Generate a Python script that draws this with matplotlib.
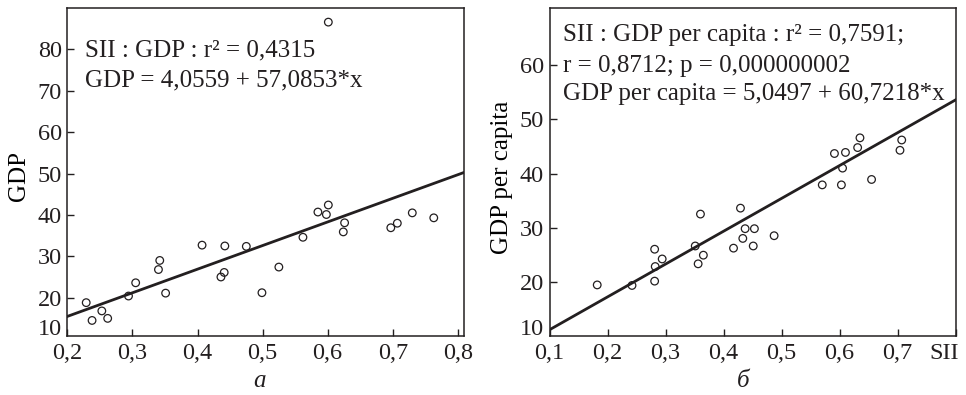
import matplotlib
matplotlib.use("Agg")
import matplotlib.pyplot as plt
from matplotlib.transforms import ScaledTranslation
import numpy as np

# ---- data ----
sii_a = [0.229, 0.238, 0.253, 0.262, 0.294, 0.305, 0.340, 0.342, 0.351, 0.407,
         0.436, 0.441, 0.442, 0.475, 0.499, 0.525, 0.562, 0.585, 0.598, 0.601,
         0.601, 0.624, 0.626, 0.697, 0.707, 0.730, 0.763]
gdp_a = [18.8, 14.5, 16.8, 15.0, 20.4, 23.6, 26.8, 29.0, 21.1, 32.7,
         25.0, 26.1, 32.5, 32.4, 21.2, 27.4, 34.6, 40.7, 40.1, 42.4,
         86.6, 35.9, 38.1, 36.9, 38.0, 40.5, 39.3]
coef_a = (4.0559, 57.0853)

sii_b = [0.182, 0.242, 0.281, 0.282, 0.281, 0.294, 0.351, 0.356, 0.360, 0.365,
         0.417, 0.429, 0.433, 0.437, 0.451, 0.453, 0.487, 0.570, 0.591, 0.603,
         0.605, 0.610, 0.631, 0.635, 0.655, 0.704, 0.707]
gdp_b = [19.4, 19.3, 26.0, 22.8, 20.1, 24.2, 26.6, 23.3, 32.5, 24.9,
         26.2, 33.6, 28.0, 29.8, 26.6, 29.8, 28.5, 37.9, 43.7, 37.9,
         41.0, 43.9, 44.8, 46.6, 38.9, 44.3, 46.2]
coef_b = (5.0497, 60.7218)

xticks_a = [0.2, 0.3, 0.4, 0.5, 0.6, 0.7, 0.8]
xticklabels_a = ["0,2", "0,3", "0,4", "0,5", "0,6", "0,7", "0,8"]
yticks_a = [20, 30, 40, 50, 60, 70, 80]
xticks_b = [0.1, 0.2, 0.3, 0.4, 0.5, 0.6, 0.7, 0.8]
xticklabels_b = ["0,1", "0,2", "0,3", "0,4", "0,5", "0,6", "0,7", "SII"]
yticks_b = [20, 30, 40, 50, 60]

text_a = ["SII : GDP : r\u00b2 = 0,4315", "GDP = 4,0559 + 57,0853*x"]
text_b = ["SII : GDP per capita : r\u00b2 = 0,7591;",
          "r = 0,8712; p = 0,000000002",
          "GDP per capita = 5,0497 + 60,7218*x"]

ink = "#231f20"
plt.rcParams['font.family'] = ['Liberation Serif', 'DejaVu Serif']
plt.rcParams['text.color'] = ink
plt.rcParams['axes.edgecolor'] = ink
plt.rcParams['xtick.color'] = ink
plt.rcParams['ytick.color'] = ink

fig = plt.figure(figsize=(9.66, 3.95), dpi=100)
ax1 = fig.add_axes([0.0697, 0.150, 0.411, 0.8296])
ax2 = fig.add_axes([0.569, 0.150, 0.4203, 0.8296])

TICK_FS = 17.5
ANN_FS = 18


def style(ax):
    for s in ax.spines.values():
        s.set_linewidth(1.1)
    ax.tick_params(direction='in', length=5, width=1.0, labelsize=TICK_FS)
    ax.tick_params(axis='x', pad=5)
    ax.tick_params(axis='y', pad=4)


# panel a
ax1.scatter(sii_a, gdp_a, s=30, facecolors='none', edgecolors=ink, linewidths=0.9, zorder=3)
xa = np.array([0.2, 0.81])
ax1.plot(xa, coef_a[0] + coef_a[1] * xa, color=ink, lw=2.0, zorder=2)
ax1.set_xlim(0.2, 0.81)
ax1.set_ylim(10.8, 90)
ax1.set_xticks(xticks_a)
ax1.set_xticklabels(xticklabels_a)
ax1.set_yticks(yticks_a)
ax1.set_yticklabels([str(v) for v in yticks_a])
style(ax1)
ax1.text(-0.014, 12.3, "10", transform=ax1.get_yaxis_transform(), ha='right', va='center', fontsize=TICK_FS)
ax1.set_ylabel("GDP", fontsize=18)
ax1.yaxis.set_label_coords(-0.094, 0.487)
ax1.text(0.0446, 0.851, text_a[0], transform=ax1.transAxes, fontsize=ANN_FS, va='baseline')
ax1.text(0.0446, 0.760, text_a[1], transform=ax1.transAxes, fontsize=ANN_FS, va='baseline')

# panel b
ax2.scatter(sii_b, gdp_b, s=30, facecolors='none', edgecolors=ink, linewidths=0.9, zorder=3)
xb = np.array([0.1, 0.8])
ax2.plot(xb, coef_b[0] + coef_b[1] * xb, color=ink, lw=2.0, zorder=2)
ax2.set_xlim(0.1, 0.8)
ax2.set_ylim(10, 70.6)
ax2.set_xticks(xticks_b)
ax2.set_xticklabels(xticklabels_b)
ax2.set_yticks(yticks_b)
ax2.set_yticklabels([str(v) for v in yticks_b])
style(ax2)
last = ax2.get_xticklabels()[-1]
last.set_transform(last.get_transform() + ScaledTranslation(-12 / 100, 0, fig.dpi_scale_trans))
ax2.text(-0.014, 11.2, "10", transform=ax2.get_yaxis_transform(), ha='right', va='center', fontsize=TICK_FS)
ax2.set_ylabel("GDP per capita", fontsize=18)
ax2.yaxis.set_label_coords(-0.090, 0.483)
for t, yy in zip(text_b, [0.900, 0.806, 0.719]):
    ax2.text(0.0335, yy, t, transform=ax2.transAxes, fontsize=ANN_FS, va='baseline')

fig.text(0.2684, 0.035, "\u0430", fontsize=18, style='italic', ha='center', va='center')
fig.text(0.7695, 0.035, "\u0431", fontsize=18, style='italic', ha='center', va='center')

fig.savefig("out.png", dpi=100)
